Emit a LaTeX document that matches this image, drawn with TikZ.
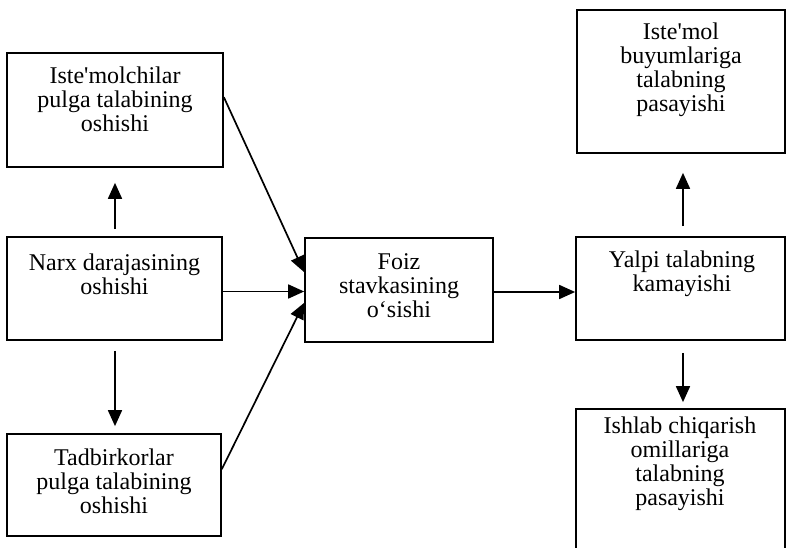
\documentclass[tikz,border=0pt]{standalone}
\usepackage{fontspec}
\setmainfont{Liberation Serif}
\usetikzlibrary{arrows.meta,calc}
\begin{document}
\begin{tikzpicture}[x=1pt,y=-1pt,
  box/.style={draw, line width=1.7pt, inner sep=0pt},
  txt/.style={inner sep=0pt, align=center, anchor=north, font=\fontsize{24}{24}\selectfont},
  arr/.style={line width=1.7pt, -{Triangle[length=16pt,width=14pt]}}]
\useasboundingbox (0,0) rectangle (788,548);
\clip (0,0) rectangle (788,548);
% boxes
\node[box, minimum width=216pt, minimum height=114pt] (A) at (115,110) {};
\node[box, minimum width=215pt, minimum height=103pt] (B) at (114.5,288.5) {};
\node[box, minimum width=214pt, minimum height=102pt] (C) at (114,485) {};
\node[box, minimum width=188pt, minimum height=104pt] (D) at (399,290) {};
\node[box, minimum width=209pt, minimum height=103pt] (E) at (680.5,288.5) {};
\node[box, minimum width=208pt, minimum height=143pt] (F) at (681,81.5) {};
\node[box, minimum width=209pt, minimum height=151pt] (G) at (680.5,484.5) {};
% texts
\node[txt] (At) at (115,66.5) {Iste\textquotesingle molchilar\\pulga talabining\\oshishi};
\node[txt] (Bt) at (114.5,253.5) {Narx darajasining\\oshishi};
\node[txt] (Ct) at (114,448.5) {Tadbirkorlar\\pulga talabining\\oshishi};
\node[txt] (Dt) at (399,253.5) {Foiz\\stavkasining\\o‘sishi};
\node[txt] (Et) at (682,250.5) {Yalpi talabning\\kamayishi};
\node[txt] (Ft) at (681,22.5) {Iste\textquotesingle mol\\buyumlariga\\talabning\\pasayishi};
\node[txt] (Gt) at (680,416.5) {Ishlab chiqarish\\omillariga\\talabning\\pasayishi};
% arrows
\draw[arr] ($(B.north)+(0.5,-7)$) -- ($(A.south)+(0,15)$);
\draw[arr] ($(B.south)+(0.5,10)$) -- ($(C.north)+(1,-7)$);
\draw[arr] ($(A.north east)+(0,45)$) -- ($(D.north west)+(0,35)$);
\draw[arr] ($(B.east)+(0,3)$) -- ($(D.west)+(0,1.5)$);
\draw[arr] ($(C.north east)+(0,36)$) -- ($(D.south west)+(0,-40)$);
\draw[arr] ($(D.east)+(0,2)$) -- ($(E.west)+(0,3.5)$);
\draw[arr] ($(E.north)+(2.5,-10)$) -- ($(F.south)+(2,19)$);
\draw[arr] ($(E.south)+(2.5,12)$) -- ($(G.north)+(2.5,-6)$);
\end{tikzpicture}
\end{document}
